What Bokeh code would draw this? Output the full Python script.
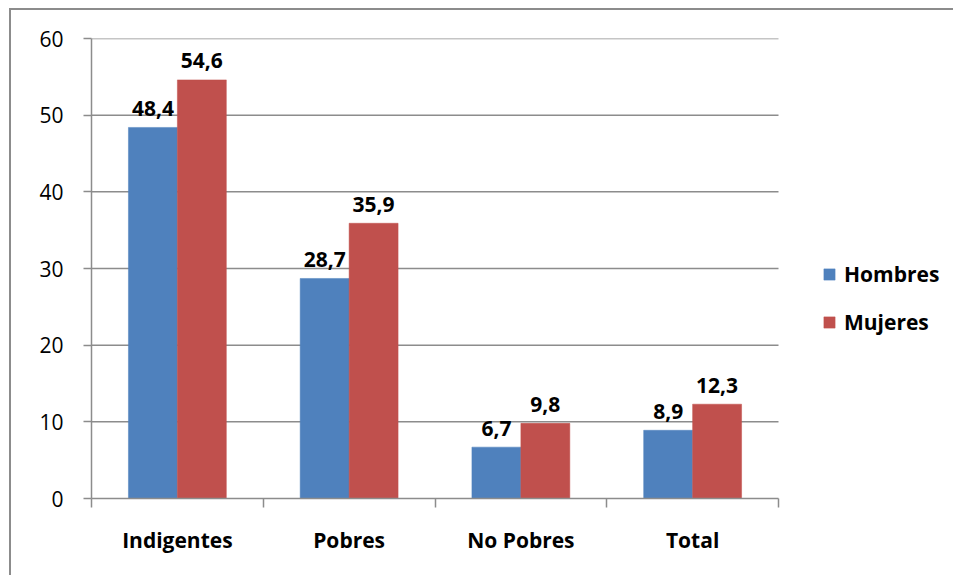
from bokeh.plotting import figure
from bokeh.models import ColumnDataSource, FixedTicker, Legend, LegendItem
from bokeh.core.properties import value
from bokeh.embed import file_html
from bokeh.resources import INLINE

categories = ["Indigentes", "Pobres", "No Pobres", "Total"]
hombres = [48.4, 28.7, 6.7, 8.9]
mujeres = [54.6, 35.9, 9.8, 12.3]
series_names = ["Hombres", "Mujeres"]
y_ticks = [0, 10, 20, 30, 40, 50, 60]

BLUE = "#4F81BD"
RED = "#C0504D"
GRID = "#8c8c8c"
FONT = "Open Sans"
FS = "21px"

OX, OY = 11, 10  # canvas origin on page after margin+border
W, H = 944, 567
FL, FR, FT, FB = 91, 778, 38, 498  # frame edges on page (bar area)

n = len(categories)
x_end = n * (W - (FL - OX)) / (FR - FL)   # frame spans to canvas right edge

p = figure(width=W, height=H, x_range=(0, x_end), y_range=(0, 60),
           output_backend="svg", toolbar_location=None,
           min_border_left=FL - OX, min_border_right=0,
           min_border_top=FT - OY, min_border_bottom=H - (FB - OY))
p.outline_line_color = None
p.background_fill_color = "white"
p.border_fill_color = "white"
p.styles = {"margin-left": "9px", "margin-top": "8px",
            "border-left": "2px solid #8c8c8c", "border-top": "2px solid #8c8c8c"}

# horizontal gridlines limited to the category area
p.segment(x0=[0] * (len(y_ticks) - 1), x1=[n] * (len(y_ticks) - 1),
          y0=y_ticks[1:], y1=y_ticks[1:], line_color=GRID, line_width=1.5)

centers = [i + 0.5 for i in range(n)]
bw = 0.285
off = 0.1425
src_h = ColumnDataSource(dict(x=[c - off for c in centers], top=hombres,
                              lab=[f"{v:.1f}".replace(".", ",") for v in hombres]))
src_m = ColumnDataSource(dict(x=[c + off for c in centers], top=mujeres,
                              lab=[f"{v:.1f}".replace(".", ",") for v in mujeres]))

rh = p.vbar(x="x", top="top", bottom=0, width=bw, source=src_h,
            fill_color=BLUE, line_color=BLUE, line_width=0.5)
rm = p.vbar(x="x", top="top", bottom=0, width=bw, source=src_m,
            fill_color=RED, line_color=RED, line_width=0.5)

for src in (src_h, src_m):
    p.text(x="x", y="top", text="lab", source=src, text_align="center",
           text_baseline="alphabetic", y_offset=-19,
           text_font=value(FONT), text_font_style="bold",
           text_font_size=FS, text_color="black")

# x axis
p.xaxis.bounds = (0, n)
p.xaxis.ticker = FixedTicker(ticks=centers, minor_ticks=list(range(n + 1)))
p.xaxis.major_label_overrides = {c: name for c, name in zip(centers, categories)}
p.xaxis.major_tick_out = 0
p.xaxis.major_tick_in = 0
p.xaxis.minor_tick_out = 9
p.xaxis.minor_tick_in = 0
p.xaxis.minor_tick_line_color = GRID
p.xaxis.axis_line_color = GRID
p.xaxis.axis_line_width = 1.5
p.xaxis.minor_tick_line_width = 1.5
p.xaxis.major_label_text_font = FONT
p.xaxis.major_label_text_font_style = "bold"
p.xaxis.major_label_text_font_size = FS
p.xaxis.major_label_text_color = "black"
p.xaxis.major_label_standoff = 18
p.xgrid.grid_line_color = None

# y axis
p.yaxis.ticker = FixedTicker(ticks=y_ticks)
p.yaxis.major_tick_out = 8
p.yaxis.major_tick_in = 0
p.yaxis.minor_tick_line_color = None
p.yaxis.major_tick_line_color = GRID
p.yaxis.major_tick_line_width = 1.5
p.yaxis.axis_line_color = GRID
p.yaxis.axis_line_width = 1.5
p.yaxis.major_label_text_font = FONT
p.yaxis.major_label_text_font_size = FS
p.yaxis.major_label_text_color = "black"
p.yaxis.major_label_standoff = 20
p.ygrid.grid_line_color = None

legend = Legend(items=[LegendItem(label=series_names[0], renderers=[rh]),
                       LegendItem(label=series_names[1], renderers=[rm])],
                location=(731, 162))
legend.glyph_width = 14
legend.glyph_height = 14
legend.label_height = 20
legend.spacing = 20
legend.label_standoff = 8
legend.padding = 0
legend.margin = 0
legend.border_line_color = None
legend.background_fill_alpha = 0
legend.label_text_font = FONT
legend.label_text_font_style = "bold"
legend.label_text_font_size = FS
legend.label_text_color = "black"
p.add_layout(legend, "center")

open("out.html", "w").write(file_html(p, INLINE))
